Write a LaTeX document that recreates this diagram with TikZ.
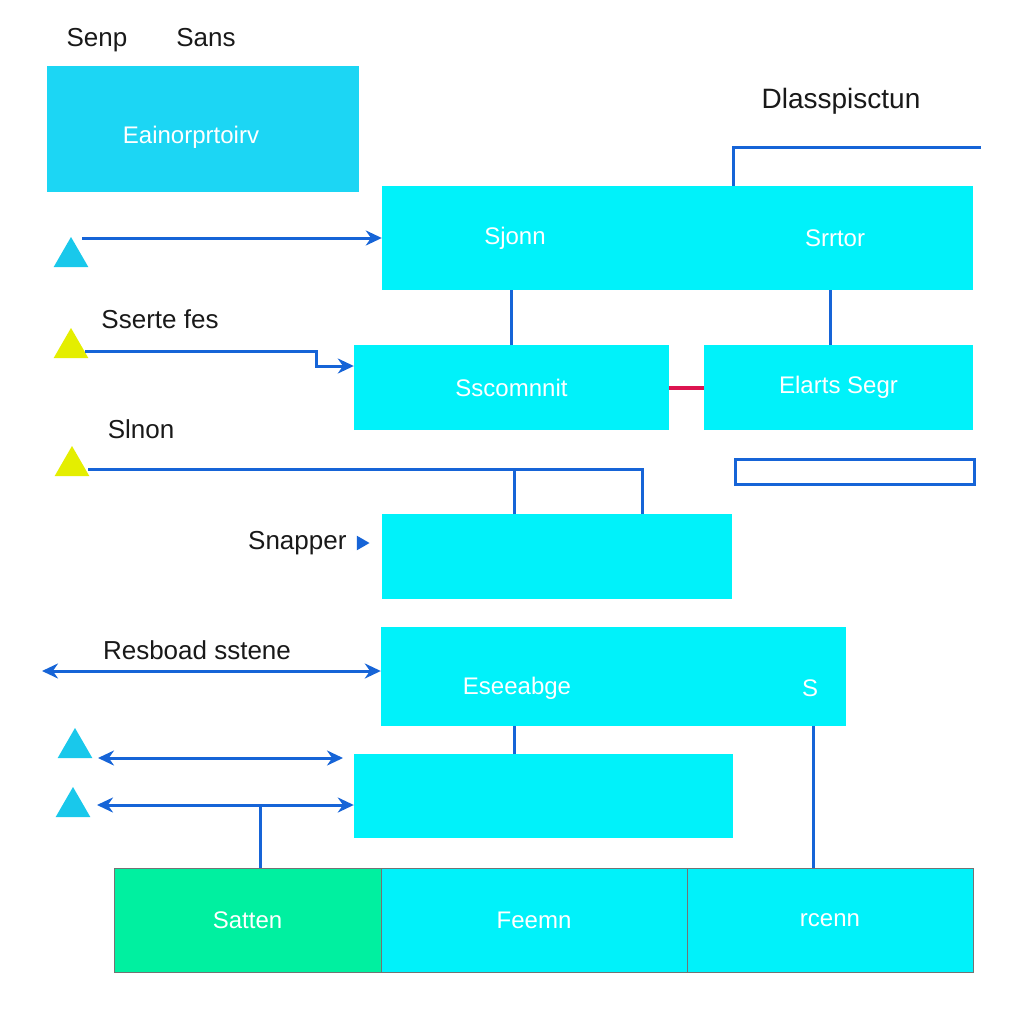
\documentclass[tikz,border=0pt]{standalone}
\usepackage{fontspec}
\setmainfont{Liberation Sans}
\usetikzlibrary{arrows.meta,positioning,shapes.geometric,calc}
\definecolor{boxcyan}{RGB}{0,242,250}
\definecolor{paleblue}{RGB}{28,214,244}
\definecolor{tricyan}{RGB}{25,200,235}
\definecolor{triyellow}{RGB}{228,238,0}
\definecolor{wireblue}{RGB}{22,100,215}
\definecolor{boxgreen}{RGB}{0,240,160}
\definecolor{linkred}{RGB}{220,20,80}

\begin{document}
\begin{tikzpicture}[x = 1pt, y = -1pt,
    box/.style = {fill = boxcyan, inner sep = 0pt, text = white, font = \fontsize{24}{28}\selectfont},
    intext/.style = {text = white, font = \fontsize{24}{28}\selectfont},
    lbl/.style = {text = black!90, font = \fontsize{26}{30}\selectfont},
    wire/.style = {draw = wireblue, line width = 3pt},
    link/.style = {wire, -{Stealth[length=16pt,width=15pt]}},
    dlink/.style = {wire, {Stealth[length=16pt,width=15pt]}-{Stealth[length=16pt,width=15pt]}},
    tri/.style = {regular polygon, regular polygon sides = 3, minimum size = 40pt, inner sep = 0pt}]
    \useasboundingbox (0,0) rectangle (1024,1024);
    \fill[white] (0,0) rectangle (1024,1024);
    % labels
    \node[lbl] (senp) at (97,40) {Senp};
    \node[lbl] (sans) at (206,38) {Sans};
    \node[lbl, font = \fontsize{28}{32}\selectfont] (dlass) at (841,101) {Dlasspisctun};
    \node[lbl] (sserte) at (160,319) {Sserte fes};
    \node[lbl] (slnon) at (141,429) {Slnon};
    \node[lbl, anchor = east] (snaplbl) at (350,543) {Snapper};
    \node[lbl] (resb) at (197,650) {Resboad sstene};
    % boxes
    \node[box, fill = paleblue, minimum width = 312pt, minimum height = 126pt] (eain) at (203,129) {};
    \node[intext] (eaintx) at (191,137) {Eainorprtoirv};
    \node[box, minimum width = 591pt, minimum height = 104pt] (top) at (677.5,238) {};
    \node[intext] (sjonn) at (515,238) {Sjonn};
    \node[intext] (srrtor) at (835,238) {Srrtor};
    \node[box, minimum width = 315pt, minimum height = 85pt] (sscom) at (511.5,387.5) {Sscomnnit};
    \node[box, minimum width = 269pt, minimum height = 85pt] (elarts) at (838.5,387.5) {Elarts Segr};
    \node[draw = wireblue, line width = 3.5pt, fill = white, minimum width = 239pt, minimum height = 25pt, inner sep = 0pt] (outl) at (855,472) {};
    \node[box, minimum width = 350pt, minimum height = 85pt] (snap) at (557,556.5) {};
    \node[box, minimum width = 465pt, minimum height = 99pt] (esea) at (613.5,676.5) {};
    \node[intext] (eseeab) at (517,688) {Eseeabge};
    \node[intext] (esS) at (810,688) {S};
    \node[box, minimum width = 379pt, minimum height = 84pt] (blank) at (543.5,796) {};
    \node[box, fill = boxgreen, draw = black!55, line width = .8pt, minimum width = 267pt, minimum height = 104pt] (satten) at (247.5,920) {Satten};
    \node[box, draw = black!55, line width = .8pt, minimum width = 306pt, minimum height = 104pt] (feemn) at (534,920) {Feemn};
    \node[box, draw = black!55, line width = .8pt, minimum width = 286pt, minimum height = 104pt] (rcenn) at (830,920) {rcenn};
    % markers
    \node[tri, fill = tricyan] (t1) at (71,257) {};
    \node[tri, fill = triyellow] (t2) at (71,348) {};
    \node[tri, fill = triyellow] (t3) at (72,466) {};
    \node[tri, fill = tricyan] (t4) at (75,748) {};
    \node[tri, fill = tricyan] (t5) at (73,807) {};
    \node[tri, fill = wireblue, minimum size = 17pt, shape border rotate = -90] (snapmk) at (361,543) {};
    % connectors
    \coordinate (a1) at (82,238);
    \draw[link] (a1) -- (top.west);
    \coordinate (k1) at (733,148);
    \coordinate (e1) at (981,148);
    \draw[wire] (k1 |- top.north) -- (k1) -- (e1);
    \draw[wire] (sscom.north) -- (sscom.north |- top.south);
    \coordinate (k2) at (830,318);
    \draw[wire] (k2 |- top.south) -- (k2 |- elarts.north);
    \draw[draw = linkred, line width = 4pt] (sscom.east) -- (elarts.west);
    \coordinate (a2) at (85,351);
    \coordinate (b2) at (316,366);
    \draw[link] (a2) -| (b2) -- (sscom.west |- b2);
    \coordinate (a3) at (88,469);
    \coordinate (k3) at (642,469);
    \coordinate (j3) at (514,469);
    \draw[wire] (a3) -- (k3) -- (k3 |- snap.north);
    \draw[wire] (j3) -- (j3 |- snap.north);
    \coordinate (a4) at (42,671);
    \draw[dlink] (a4) -- (esea.west |- a4);
    \coordinate (a5) at (98,758);
    \coordinate (b5) at (343,758);
    \draw[dlink] (a5) -- (b5);
    \coordinate (a6) at (97,805);
    \draw[dlink] (a6) -- (blank.west |- a6);
    \coordinate (j6) at (260,805);
    \draw[wire] (j6) -- (j6 |- satten.north);
    \coordinate (j7) at (514,740);
    \draw[wire] (j7 |- esea.south) -- (j7 |- blank.north);
    \coordinate (j8) at (813,800);
    \draw[wire] (j8 |- esea.south) -- (j8 |- rcenn.north);
\end{tikzpicture}
\end{document}
